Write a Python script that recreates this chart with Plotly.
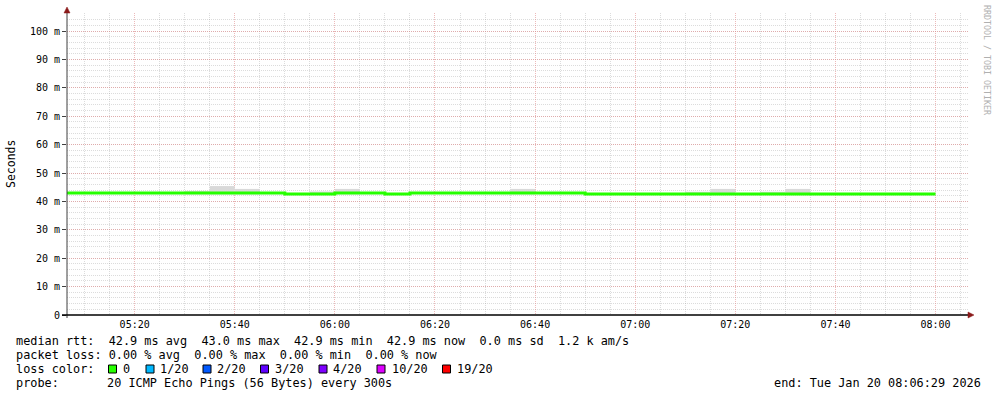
import plotly.graph_objects as go
import pandas as pd

# ---------------- data ----------------
DAY = "2026-01-20"
interval_start = ["05:05", "05:10", "05:15", "05:20", "05:25", "05:30", "05:35", "05:40", "05:45",
                  "05:50", "05:55", "06:00", "06:05", "06:10", "06:15", "06:20", "06:25", "06:30",
                  "06:35", "06:40", "06:45", "06:50", "06:55", "07:00", "07:05", "07:10", "07:15",
                  "07:20", "07:25", "07:30", "07:35", "07:40", "07:45", "07:50", "07:55"]
median_ms = [43.0, 43.0, 43.0, 43.0, 43.0, 43.0, 43.0, 43.0, 43.0,
             42.65, 42.65, 43.0, 43.0, 42.65, 43.0, 43.0, 43.0, 43.0,
             43.0, 43.0, 43.0, 42.65, 42.65, 42.65, 42.65, 42.65, 42.65,
             42.65, 42.65, 42.65, 42.65, 42.65, 42.65, 42.65, 42.65]
data_end = "08:00"

smoke_start = ["05:30", "05:35", "05:40", "05:55", "06:00", "06:35", "07:10", "07:15", "07:25", "07:30"]
smoke_top = [43.7, 45.4, 44.4, 43.5, 44.4, 44.4, 43.4, 44.4, 43.4, 44.4]
smoke_bottom = [42.5, 42.5, 42.5, 42.5, 42.5, 42.5, 42.5, 42.5, 42.5, 42.5]

y_tick_vals = [0, 10, 20, 30, 40, 50, 60, 70, 80, 90, 100]
y_tick_text = ["0", "10 m", "20 m", "30 m", "40 m", "50 m", "60 m", "70 m", "80 m", "90 m", "100 m"]

stats_line1 = "median rtt:  42.9 ms avg  43.0 ms max  42.9 ms min  42.9 ms now  0.0 ms sd  1.2 k am/s"
stats_line2 = "packet loss: 0.00 % avg  0.00 % max  0.00 % min  0.00 % now"
loss_title = "loss color:"
loss_labels = ["0", "1/20", "2/20", "3/20", "4/20", "10/20", "19/20"]
loss_colors = ["#26ff00", "#00b8ff", "#0059ff", "#5e00ff", "#7e00ff", "#dd00ff", "#ff0000"]
probe_title = "probe:"
probe_text = "20 ICMP Echo Pings (56 Bytes) every 300s"
end_text = "end: Tue Jan 20 08:06:29 2026"
watermark = "RRDTOOL / TOBI OETIKER"
y_title = "Seconds"

# ---------------- geometry ----------------
W, H = 997, 397
L, R, T, B = 67, 968, 13, 315
PW, PH = R - L, B - T
Y_MAX = 106.34


def px(x):
    return (x - L) / PW


def py(y):
    return (B - y) / PH


def ts(hm):
    return pd.Timestamp(f"{DAY} {hm}")


MONO = "DejaVu Sans Mono"

fig = go.Figure()

# smoke
fig.add_trace(go.Bar(
    x=[ts(s) + pd.Timedelta(seconds=150) for s in smoke_start],
    y=[t - b for t, b in zip(smoke_top, smoke_bottom)],
    base=smoke_bottom,
    width=300000,
    marker=dict(color="#d9d9d9", line=dict(width=0)),
    hoverinfo="skip",
    showlegend=False,
))

# median line (step)
xs = [ts(s) for s in interval_start] + [ts(data_end)]
ys = median_ms + [median_ms[-1]]
fig.add_trace(go.Scatter(
    x=xs, y=ys, mode="lines",
    line=dict(color="#26ff00", width=3, shape="hv"),
    hoverinfo="skip", showlegend=False,
))

major_grid = "rgba(225,140,140,0.6)"
minor_grid = "rgba(150,150,150,0.33)"

fig.update_layout(
    width=W, height=H,
    margin=dict(l=L, r=W - R, t=T, b=H - B),
    paper_bgcolor="white", plot_bgcolor="white",
    barmode="overlay",
    showlegend=False,
    font=dict(family=MONO, size=10, color="black"),
    xaxis=dict(
        type="date",
        range=[f"{DAY} 05:06:29", f"{DAY} 08:06:29"],
        tick0=f"{DAY} 05:20:00", dtick=1200000, tickformat="%H:%M",
        showgrid=True, gridcolor=major_grid, griddash="1px,1px", gridwidth=1,
        ticks="", ticklen=0, ticklabelstandoff=2,
        tickfont=dict(family=MONO, size=10, color="black"),
        minor=dict(tick0=f"{DAY} 05:20:00", dtick=300000, showgrid=True,
                   gridcolor=minor_grid, griddash="1px,1px", gridwidth=1, ticks=""),
        showline=False, zeroline=False, fixedrange=True,
    ),
    yaxis=dict(
        range=[0, Y_MAX],
        tickvals=y_tick_vals, ticktext=y_tick_text,
        showgrid=True, gridcolor=major_grid, griddash="1px,1px", gridwidth=1,
        ticks="outside", ticklen=4, tickcolor="#404040",
        tickfont=dict(family=MONO, size=10, color="black"),
        minor=dict(tick0=0, dtick=2, showgrid=True, gridcolor=minor_grid,
                   griddash="1px,1px", gridwidth=1, ticks=""),
        showline=False, zeroline=False, fixedrange=True,
    ),
)

shapes = []
arrow_col = "#8b1a1a"
# y axis line
shapes.append(dict(type="line", xref="paper", yref="paper",
                   x0=px(67), x1=px(67), y0=py(318), y1=py(11),
                   line=dict(color="#404040", width=1)))
# x axis line
shapes.append(dict(type="line", xref="paper", yref="paper",
                   x0=px(62), x1=px(970), y0=py(315), y1=py(315),
                   line=dict(color="#000000", width=1.3)))
# arrows
shapes.append(dict(type="path", xref="paper", yref="paper",
                   path=f"M {px(64)},{py(13)} L {px(70)},{py(13)} L {px(67)},{py(7)} Z",
                   fillcolor=arrow_col, line=dict(color=arrow_col, width=0.5)))
shapes.append(dict(type="path", xref="paper", yref="paper",
                   path=f"M {px(968)},{py(312)} L {px(968)},{py(318)} L {px(974)},{py(315)} Z",
                   fillcolor=arrow_col, line=dict(color=arrow_col, width=0.5)))

annotations = []
TXT = dict(family=MONO, size=11.85, color="black")


def text_at(x, y, s, anchor="left"):
    annotations.append(dict(xref="paper", yref="paper", x=px(x), y=py(y), text=s,
                            showarrow=False, xanchor=anchor, yanchor="middle",
                            font=TXT, borderpad=0))


text_at(15, 341, stats_line1.replace(" ", "&nbsp;"))
text_at(15, 355, stats_line2.replace(" ", "&nbsp;"))
text_at(15, 369, loss_title)
text_at(15, 383, probe_title)
text_at(106, 383, probe_text.replace(" ", "&nbsp;"))
text_at(982, 383, end_text.replace(" ", "&nbsp;"), anchor="right")

box_x = [108.5, 146, 203, 260.5, 319, 377, 442.5]
label_x = [122, 159, 216, 274, 332, 391, 456]
for bx, lx, lab, col in zip(box_x, label_x, loss_labels, loss_colors):
    shapes.append(dict(type="rect", xref="paper", yref="paper",
                       x0=px(bx), x1=px(bx + 8), y0=py(373), y1=py(365),
                       fillcolor=col, line=dict(color="black", width=1)))
    text_at(lx, 369, lab)

# y title
annotations.append(dict(xref="paper", yref="paper", x=px(11), y=py(164), text=y_title,
                        showarrow=False, textangle=-90, xanchor="center", yanchor="middle",
                        font=dict(family=MONO, size=11.5, color="black")))
# watermark
annotations.append(dict(xref="paper", yref="paper", x=px(987), y=py(60), text=watermark,
                        showarrow=False, textangle=90, xanchor="center", yanchor="middle",
                        font=dict(family=MONO, size=8.3, color="#b0b0b0")))

fig.update_layout(shapes=shapes, annotations=annotations)
fig.write_html("out.html")
